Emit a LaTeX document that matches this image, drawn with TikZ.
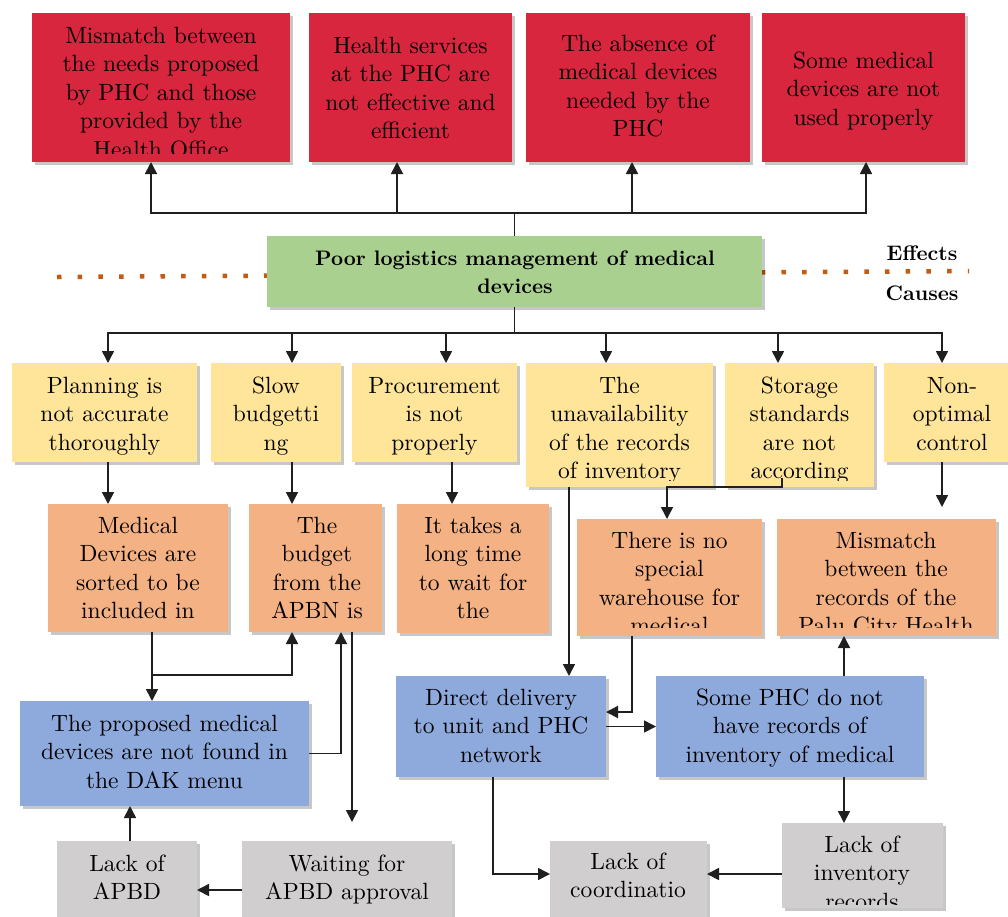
\documentclass[tikz,border=0pt]{standalone}
\usepackage{fontspec}
\setmainfont{lmroman10-regular.otf}[BoldFont=lmroman10-bold.otf]
\usetikzlibrary{arrows.meta,shadows,fit}
\definecolor{cred}{RGB}{215,38,62}
\definecolor{cgreen}{RGB}{169,208,142}
\definecolor{cyel}{RGB}{255,229,153}
\definecolor{corg}{RGB}{244,177,131}
\definecolor{cblue}{RGB}{142,169,219}
\definecolor{cgray}{RGB}{208,206,206}
\definecolor{cdot}{RGB}{197,90,17}
\tikzset{
 boxbase/.style={inner sep=0pt, outer sep=0pt, draw=none,
   drop shadow={shadow xshift=2.5pt, shadow yshift=-3pt, fill=black, opacity=0.22}},
 redbox/.style={boxbase, fill=cred},
 greenbox/.style={boxbase, fill=cgreen},
 yelbox/.style={boxbase, fill=cyel},
 orgbox/.style={boxbase, fill=corg},
 bluebox/.style={boxbase, fill=cblue},
 graybox/.style={boxbase, fill=cgray},
 txt/.style={inner sep=0pt, outer sep=0pt, align=center, anchor=north,
   font=\fontsize{23.5}{28.5}\selectfont},
 boldtxt/.style={inner sep=0pt, outer sep=0pt, align=center,
   font=\bfseries\fontsize{21}{28}\selectfont},
 ln/.style={line width=1.6pt, draw=black!88},
 arr/.style={ln, -{Triangle[length=12pt,width=12pt]}},
 dotline/.style={draw=cdot, line width=4.5pt, dash pattern=on 4.5pt off 16.2pt},
}
\newcommand\ci{-100pt}
\newcommand\bx[9]{%
 \node[#1, fit={(#3,#4) (#5,#6)}] (#2) {};
 \begin{scope}
 \clip (#2.north west) rectangle ([yshift=\ci]#2.south east);
 \node[txt] (#2t) at (#7,#8) {\strut #9};
 \end{scope}}
\begin{document}
\begin{tikzpicture}[x=1pt,y=-1pt]
\useasboundingbox (0,0) rectangle (1008,916);
\fill[white] (0,0) rectangle (1008,916);
% level coordinates
\coordinate (yl213) at (0,213);
\coordinate (yl333) at (0,333);
\coordinate (yl507) at (0,507);
\coordinate (yl675) at (0,675);
\coordinate (yl712) at (0,712);
\coordinate (yl822) at (0,822);
\coordinate (yl874) at (0,874);
\coordinate (yl890) at (0,890);
% separator
\coordinate (dl) at (57,277);
\coordinate (dr) at (969,271);
\draw[dotline] (dl) -- (dr);
% effects
\renewcommand\ci{9pt}
\bx{redbox}{r1}{32}{13}{290}{162}{161}{23.5}{\fontsize{23.5}{30.3}\selectfont Mismatch between\\the needs proposed\\by PHC and those\\provided by the\\Health Office}
\renewcommand\ci{-100pt}
\bx{redbox}{r2}{309}{13}{512}{162}{410.5}{33.3}{Health services\\at the PHC are\\not effective and\\efficient}
\bx{redbox}{r3}{526}{13}{750}{162}{638}{31.5}{The absence of\\medical devices\\needed by the\\PHC}
\bx{redbox}{r4}{762}{13}{965}{162}{863.5}{48.5}{Some medical\\devices are not\\used properly}
% central problem
\node[greenbox, fit={(267,236) (762,307)}] (green) {};
\node[boldtxt, anchor=north] (greent) at (515,245.5) {\strut Poor logistics management of medical\\devices};
\node[boldtxt] (eff) at (922,253) {Effects};
\node[boldtxt] (cau) at (922,293) {Causes};
% causes
\bx{yelbox}{y1}{12}{363}{197}{462}{104.5}{373.5}{Planning is\\not accurate\\thoroughly}
\bx{yelbox}{y2}{211}{363}{341}{462}{276}{373.5}{Slow\\budgetti\\ng}
\bx{yelbox}{y3}{352}{363}{517}{462}{434.5}{373.5}{Procurement\\is not\\properly}
\renewcommand\ci{7pt}
\bx{yelbox}{y4}{526}{363}{713}{487}{619.5}{373.5}{The\\unavailability\\of the records\\of inventory}
\bx{yelbox}{y5}{725}{363}{874}{487}{799.5}{373.5}{Storage\\standards\\are not\\according}
\renewcommand\ci{-100pt}
\bx{yelbox}{y6}{884}{363}{1020}{462}{952}{373.5}{Non-\\optimal\\control}
% second level
\bx{orgbox}{o1}{48}{504}{228}{632}{138}{513.5}{Medical\\Devices are\\sorted to be\\included in}
\bx{orgbox}{o2}{249}{504}{382}{632}{317}{513.5}{The\\budget\\from the\\APBN is}
\bx{orgbox}{o3}{397}{504}{549}{633}{473}{513.5}{It takes a\\long time\\to wait for\\the}
\renewcommand\ci{9pt}
\bx{orgbox}{o4}{577}{519}{762}{636}{669.5}{528.5}{There is no\\special\\warehouse for\\medical}
\bx{orgbox}{o5}{777}{519}{996}{636}{886}{528.5}{Mismatch\\between the\\records of the\\Palu City Health}
\renewcommand\ci{-100pt}
% blue
\bx{bluebox}{b1}{20}{701}{309}{806}{164.5}{711.5}{The proposed medical\\devices are not found in\\the DAK menu}
\bx{bluebox}{b2}{396}{676}{606}{777}{501}{685.5}{Direct delivery\\to unit and PHC\\network}
\bx{bluebox}{b3}{656}{676}{924}{777}{790}{685.5}{Some PHC do not\\have records of\\inventory of medical}
% gray
\bx{graybox}{g1}{57}{841}{197}{930}{127}{851.5}{Lack of\\APBD}
\bx{graybox}{g2}{242}{841}{452}{930}{347}{851.5}{Waiting for\\APBD approval}
\bx{graybox}{g3}{550}{841}{707}{930}{628}{849.5}{Lack of\\coordinatio}
\renewcommand\ci{4pt}
\bx{graybox}{g4}{782}{823}{943}{908}{862}{832.5}{Lack of\\inventory\\records}
\renewcommand\ci{-100pt}
% connectors: effects
\coordinate (jt) at (green.north |- yl213);
\draw[ln] (green.north) -- (jt);
\draw[arr] (jt) -| ([xshift=-10pt]r1.south);
\draw[arr] (jt) -| ([xshift=-13.5pt]r2.south);
\draw[arr] (jt) -| ([xshift=-6pt]r3.south);
\draw[arr] (jt) -| ([xshift=2.5pt]r4.south);
% connectors: causes
\coordinate (jb) at (green.south |- yl333);
\draw[ln] (green.south) -- (jb);
\draw[arr] (jb) -| ([xshift=3.5pt]y1.north);
\draw[arr] (jb) -| ([xshift=16pt]y2.north);
\draw[arr] (jb) -| ([xshift=11.5pt]y3.north);
\draw[arr] (jb) -| ([xshift=-13.5pt]y4.north);
\draw[arr] (jb) -| ([xshift=-21.5pt]y5.north);
\draw[arr] (jb) -| ([xshift=-10pt]y6.north);
% yellow to next
\draw[arr] ([xshift=3.5pt]y1.south) -- ([xshift=3.5pt]y1.south |- o1.north);
\draw[arr] ([xshift=16pt]y2.south) -- ([xshift=16pt]y2.south |- o2.north);
\draw[arr] ([xshift=17.5pt]y3.south) -- ([xshift=17.5pt]y3.south |- o3.north);
\draw[arr] ([xshift=-50.5pt]y4.south) -- ([xshift=-50.5pt]y4.south |- b2.north);
\draw[arr] ([xshift=-17.5pt,yshift=9pt]y5.south) -- ([xshift=-17.5pt]y5.south) -| ([xshift=-2.5pt]o4.north);
\draw[arr] ([xshift=-10pt]y6.south) -- ([xshift=-10pt]y6.south |- yl507);
% left cluster
\coordinate (j1) at ([xshift=14pt]o1.south |- yl675);
\draw[arr] ([xshift=14pt]o1.south) -- ([xshift=14pt]o1.south |- b1.north);
\draw[arr] (j1) -| ([xshift=-23.5pt]o2.south);
\draw[arr] (b1.east) -| ([xshift=25.5pt]o2.south);
\draw[arr] ([xshift=36.5pt]o2.south) -- ([xshift=36.5pt]o2.south |- yl822);
\draw[arr] (g2.west |- yl890) -- (g1.east |- yl890);
\draw[arr] ([xshift=3pt]g1.north) -- ([xshift=3pt]g1.north |- b1.south);
% right cluster
\draw[arr] ([xshift=-37.5pt]o4.south) |- (b2.east |- yl712);
\draw[arr] (b2.east) -- (b3.west);
\draw[arr] ([xshift=54pt]b3.north) -- ([xshift=54pt]b3.north |- o5.south);
\draw[arr] ([xshift=54pt]b3.south) -- ([xshift=54pt]b3.south |- g4.north);
\draw[arr] (g4.west |- yl874) -- (g3.east |- yl874);
\draw[arr] ([xshift=-8pt]b2.south) |- (g3.west |- yl874);
\end{tikzpicture}
\end{document}
